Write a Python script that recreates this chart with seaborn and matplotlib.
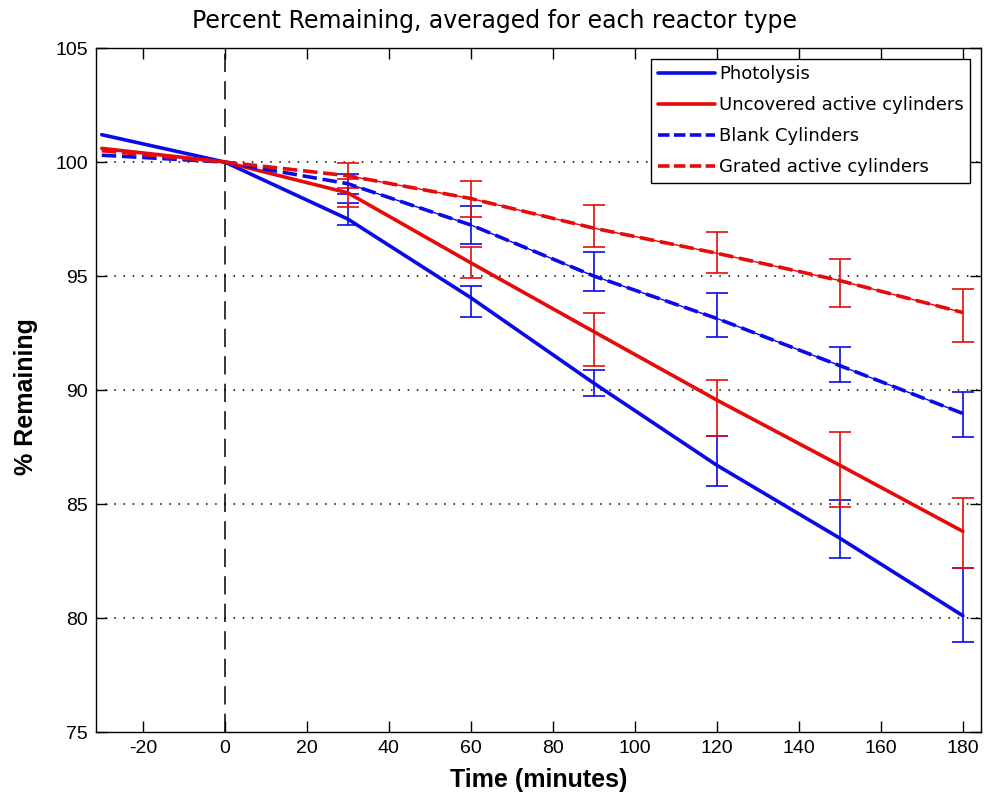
import matplotlib
matplotlib.use("Agg")
import matplotlib.pyplot as plt
from matplotlib.lines import Line2D
import numpy as np
import pandas as pd
import seaborn as sns

# Sampling times (minutes) and averaged percent remaining per reactor type
times = [-30, 0, 30, 60, 90, 120, 150, 180]
photolysis = [101.2, 100.0, 97.5, 94.05, 90.3, 86.7, 83.5, 80.1]
uncovered = [100.6, 100.0, 98.65, 95.58, 92.56, 89.56, 86.7, 83.8]
blank = [100.3, 100.0, 99.05, 97.24, 95.0, 93.14, 91.07, 88.97]
grated = [100.5, 100.0, 99.4, 98.4, 97.1, 96.0, 94.8, 93.4]

# Error-bar ends (lower / upper) at the measured times 30..180
err_times = [30, 60, 90, 120, 150, 180]
photolysis_lo = [97.24, 93.2, 89.75, 85.8, 82.62, 78.95]
photolysis_hi = [98.19, 94.56, 90.88, 87.98, 85.18, 82.2]
uncovered_lo = [98.04, 94.9, 91.07, 87.98, 84.85, 82.2]
uncovered_hi = [99.24, 96.26, 93.36, 90.44, 88.16, 85.25]
blank_lo = [98.6, 96.4, 94.36, 92.31, 90.36, 87.93]
blank_hi = [99.47, 98.07, 96.07, 94.24, 91.87, 89.93]
grated_lo = [98.85, 97.6, 96.29, 95.14, 93.63, 92.12]
grated_hi = [99.94, 99.16, 98.11, 96.94, 95.73, 94.42]

series_names = ["Photolysis", "Uncovered active cylinders",
                "Blank Cylinders", "Grated active cylinders"]
series_vals = [photolysis, uncovered, blank, grated]
series_lo = [photolysis_lo, uncovered_lo, blank_lo, grated_lo]
series_hi = [photolysis_hi, uncovered_hi, blank_hi, grated_hi]
colors = {"Photolysis": "#0a0ae6", "Uncovered active cylinders": "#e60a0a",
          "Blank Cylinders": "#0a0ae6", "Grated active cylinders": "#e60a0a"}
dash_styles = {"Photolysis": "", "Uncovered active cylinders": "",
               "Blank Cylinders": (4, 1.6), "Grated active cylinders": (4, 1.6)}

df = pd.DataFrame({
    "Time": np.tile(times, len(series_names)),
    "Remaining": np.concatenate(series_vals),
    "Reactor": np.repeat(series_names, len(times)),
})

sns.set_theme(style="white")
plt.rcParams["font.family"] = ["Liberation Sans", "DejaVu Sans"]
plt.rcParams["axes.unicode_minus"] = False
plt.rcParams["text.color"] = "black"
plt.rcParams["axes.labelcolor"] = "black"

fig = plt.figure(figsize=(9.87, 8.01), dpi=100)
ax = fig.add_axes([0.0973, 0.0861, 0.8966, 0.8539])

# dotted horizontal reference lines
for yv in [80, 85, 90, 95, 100]:
    ax.axhline(yv, color="black", lw=1.1, ls=(0, (1, 5)), zorder=1)
# dashed vertical line marking t = 0
ax.axvline(0, color="black", lw=1.1, ls=(0, (12, 6)), zorder=1)

sns.lineplot(data=df, x="Time", y="Remaining", hue="Reactor", style="Reactor",
             hue_order=series_names, style_order=series_names,
             palette=colors, dashes=dash_styles, linewidth=2.6,
             legend=False, ax=ax, zorder=3)

# error bars with thin connecting lines
for name, vals, lo, hi in zip(series_names, series_vals, series_lo, series_hi):
    mid = np.array(vals[2:])
    lo = np.array(lo)
    hi = np.array(hi)
    yerr = np.vstack([mid - lo, hi - mid])
    ax.errorbar(err_times, mid, yerr=yerr, color=colors[name], lw=1.0,
                elinewidth=1.2, capsize=8, capthick=1.2, zorder=2)

ax.set_xlim(-31.4, 184.4)
ax.set_ylim(75, 105)
ax.set_xticks(np.arange(-20, 181, 20))
ax.set_yticks(np.arange(75, 106, 5))

for sp in ax.spines.values():
    sp.set_color("black")
    sp.set_linewidth(1.0)
ax.tick_params(direction="in", length=8, width=1, colors="black",
               labelsize=14, top=True, right=True, bottom=True, left=True,
               pad=6)

fig.text(0.5015, 0.974, "Percent Remaining, averaged for each reactor type",
         fontsize=17, ha="center", va="center", family=["DejaVu Sans"],
         color="black")
ax.set_xlabel("Time (minutes)", fontsize=18, fontweight="bold", labelpad=8)
ax.set_ylabel("% Remaining", fontsize=18, fontweight="bold")
ax.yaxis.set_label_coords(-0.066, 0.49)

handles = [Line2D([], [], color=colors[n], lw=2.6,
                  ls="-" if dash_styles[n] == "" else (0, (3.2, 1.2)))
           for n in series_names]
leg = ax.legend(handles, series_names, loc="upper right",
                prop={"family": "DejaVu Sans", "size": 13},
                frameon=True, fancybox=False, edgecolor="black",
                framealpha=1, handlelength=3.2, handletextpad=0.2,
                labelspacing=0.72, borderaxespad=0.6, borderpad=0.35)
leg.get_frame().set_linewidth(1.0)

fig.savefig("out.png", dpi=100, facecolor="white")
